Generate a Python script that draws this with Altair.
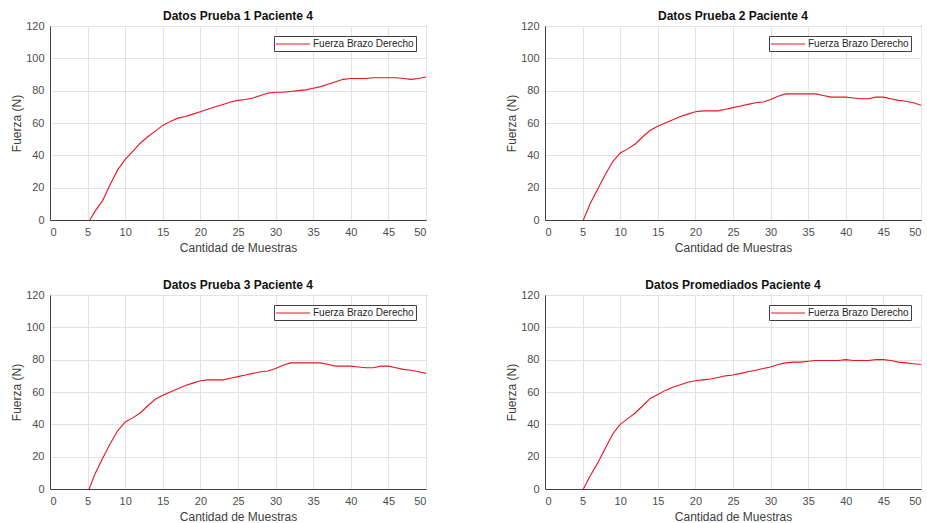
import altair as alt
import pandas as pd

# Sample index (x) for each trial; the first point is where the force crosses zero
muestras_p1 = [5.3] + list(range(6, 51))
muestras_p2 = [5.1] + list(range(6, 51))
muestras_p3 = [5.2] + list(range(6, 51))
muestras_prom = [5.1] + list(range(6, 51))

fuerza_p1 = [0, 5.5, 12, 22, 31, 37.5, 42.5, 47.5, 51.5, 55, 58.5, 61, 63, 64, 65.5,
             67, 68.5, 70, 71.5, 73, 74, 74.5, 75.5, 77, 78.5, 79, 79, 79.5, 80, 80.5,
             81.5, 82.5, 84, 85.5, 87, 87.5, 87.5, 87.5, 88, 88, 88, 88, 87.5, 87, 87.5, 88.5]
fuerza_p2 = [0, 10, 19, 28, 36, 41.5, 44, 47, 51.5, 55.5, 58, 60, 62, 64, 65.5,
             67, 67.5, 67.5, 67.5, 68.5, 69.5, 70.5, 71.5, 72.5, 73, 74.5, 76.5, 78, 78, 78,
             78, 78, 77, 76, 76, 76, 75.5, 75, 75, 76, 76, 75, 74, 73.5, 72.5, 71]
fuerza_p3 = [0, 9.5, 19, 28, 36, 41.5, 44, 47, 51.5, 55.5, 58, 60, 62, 64, 65.5,
             67, 67.5, 67.5, 67.5, 68.5, 69.5, 70.5, 71.5, 72.5, 73, 74.5, 76.5, 78, 78, 78,
             78, 78, 77, 76, 76, 76, 75.5, 75, 75, 76, 76, 75, 74, 73.5, 72.5, 71.5]
fuerza_prom = [0, 8, 16, 25, 34, 40, 43.5, 47, 51.5, 56, 58.5, 61, 63, 64.5, 66,
               67, 67.5, 68, 69, 70, 70.5, 71.5, 72.5, 73.5, 74.5, 75.5, 77, 78, 78.5, 78.5,
               79, 79.5, 79.5, 79.5, 79.5, 80, 79.5, 79.5, 79.5, 80, 80, 79.5, 78.5, 78, 77.5, 77]

serie = "Fuerza Brazo Derecho"
x_ticks = list(range(0, 51, 5))
y_ticks = list(range(0, 121, 20))

# long, flat line sample for the legend entry
legend_line = "M-3.4,0H3.4"


def panel(titulo, xs, ys):
    df = pd.DataFrame({"muestra": xs, "fuerza": ys, "serie": serie})
    return (
        alt.Chart(df, title=alt.TitleParams(titulo, frame="group", offset=-3))
        .mark_line(strokeWidth=1.1, interpolate="linear", clip=True)
        .encode(
            x=alt.X("muestra:Q", title="Cantidad de Muestras",
                    scale=alt.Scale(domain=[0, 50], nice=False),
                    axis=alt.Axis(values=x_ticks, format="d")),
            y=alt.Y("fuerza:Q", title="Fuerza (N)",
                    scale=alt.Scale(domain=[0, 120], nice=False),
                    axis=alt.Axis(values=y_ticks, format="d")),
            color=alt.Color("serie:N",
                            scale=alt.Scale(domain=[serie], range=["#e8141e"]),
                            legend=alt.Legend(title=None, orient="top-right", offset=10,
                                              symbolType=legend_line, symbolSize=100,
                                              symbolStrokeWidth=1.1, symbolOffset=11,
                                              strokeColor="#404040", fillColor="white",
                                              padding=2, labelFontSize=10,
                                              labelColor="#262626", labelOffset=14)),
        )
        .properties(width=376, height=194)
    )


fila1 = alt.hconcat(panel("Datos Prueba 1 Paciente 4", muestras_p1, fuerza_p1),
                    panel("Datos Prueba 2 Paciente 4", muestras_p2, fuerza_p2),
                    spacing=78).resolve_legend(color="independent")
fila2 = alt.hconcat(panel("Datos Prueba 3 Paciente 4", muestras_p3, fuerza_p3),
                    panel("Datos Promediados Paciente 4", muestras_prom, fuerza_prom),
                    spacing=78).resolve_legend(color="independent")

chart = (
    alt.vconcat(fila1, fila2, spacing=24)
    .resolve_legend(color="independent")
    .properties(padding={"left": 10, "top": 9, "right": 0, "bottom": 0},
                background="white")
    .configure(font="Liberation Sans")
    .configure_view(stroke="#404040", strokeWidth=1)
    .configure_axis(
        labelFontSize=11, labelColor="#4d4d4d", labelPadding=6,
        titleFontSize=12, titleColor="#404040", titleFontWeight="normal",
        domainColor="#404040", gridColor="#e3e3e3", ticks=False,
    )
    .configure_axisY(titlePadding=2)
    .configure_axisX(titlePadding=5)
    .configure_title(fontSize=12, fontWeight="bold", color="#111111")
)

chart.save("out.html", embed_options={"renderer": "svg", "actions": False})
